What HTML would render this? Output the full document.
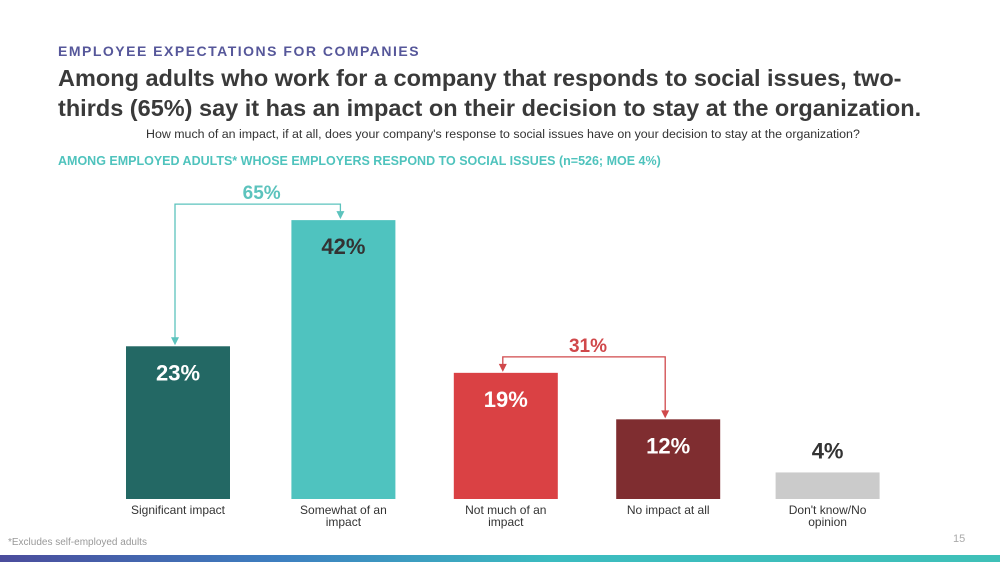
<!DOCTYPE html>
<html><head><meta charset="utf-8"><style>
body{margin:0;width:1000px;height:562px;overflow:hidden;background:#fff;font-family:"Liberation Sans",Arial,sans-serif;position:relative}
.a{position:absolute;white-space:nowrap}
</style></head><body>
<div class="a" style="left:58px;top:43px;font-size:14px;font-weight:bold;letter-spacing:1.5px;color:#56579a">EMPLOYEE EXPECTATIONS FOR COMPANIES</div>
<div class="a" style="left:58px;top:63px;font-size:23.5px;font-weight:bold;color:#3a3a3a;line-height:30px">Among adults who work for a company that responds to social issues, two-<br>thirds (65%) say it has an impact on their decision to stay at the organization.</div>
<div class="a" style="left:146px;top:127px;font-size:12.4px;color:#333">How much of an impact, if at all, does your company's response to social issues have on your decision to stay at the organization?</div>
<div class="a" style="left:58px;top:154px;font-size:12.5px;font-weight:bold;color:#4fc3bd">AMONG EMPLOYED ADULTS* WHOSE EMPLOYERS RESPOND TO SOCIAL ISSUES (n=526; MOE 4%)</div>
<div class="a" style="left:8px;top:537px;font-size:10px;color:#999">*Excludes self-employed adults</div>
<div class="a" style="left:953px;top:533px;font-size:11px;color:#aaa">15</div>
<div class="a" style="left:0;top:555px;width:1000px;height:7px;background:linear-gradient(90deg,#4b4c9c,#3d7fc0 28%,#3bbcc0 55%,#3fc0b8)"></div>
<svg id="chart" width="1000" height="562" style="position:absolute;left:0;top:0"></svg>
<script>
const categories=["Significant impact","Somewhat of an\nimpact","Not much of an\nimpact","No impact at all","Don't know/No\nopinion"];
const values=[23,42,19,12,4];
const valueLabels=["23%","42%","19%","12%","4%"];
const colors=["#236864","#4fc3bf","#da4144","#7f2d30","#cbcbcb"];
const labelColors=["#fff","#333","#fff","#fff","#333"];
const netLabels=["65%","31%"];
const svg=document.getElementById('chart');const NS='http://www.w3.org/2000/svg';
const base=499,scale=6.64,x0=126,step=162.4,bw=104;
const xs=i=>x0+i*step+(i>0&&i<4?3:0), ys=v=>base-v*scale;
function mk(t,a){const e=document.createElementNS(NS,t);for(const k in a)e.setAttribute(k,a[k]);svg.appendChild(e);return e;}
values.forEach((v,i)=>{
 const r=mk('rect',{x:xs(i),y:ys(v),width:bw,height:v*scale,fill:colors[i]});
 
 
 const inside=v>8;
 const t=mk('text',{x:xs(i)+bw/2,y:inside?ys(v)+34:ys(v)-14,'text-anchor':'middle','font-size':22,'font-weight':'bold',fill:labelColors[i],'font-family':'Liberation Sans, sans-serif'});
 t.textContent=valueLabels[i];
 
 
 const lines=categories[i].split('\n');
 lines.forEach((l,j)=>{const c=mk('text',{x:xs(i)+bw/2,y:514+j*12,'text-anchor':'middle','font-size':12,fill:'#333','font-family':'Liberation Sans, sans-serif'});c.textContent=l;
 
 });
});
function bracket(a,b,col,lab){
 const xa=xs(a)+bw/2-3,xb=xs(b)+bw/2-3,top=Math.min(ys(values[a]),ys(values[b]))-16;
 const p=mk('path',{d:`M${xa} ${ys(values[a])-4}V${top}H${xb}V${ys(values[b])-4}`,stroke:col,fill:'none','stroke-width':1.3});
 
 
 [xa,xb].forEach(x=>{const y=(x===xa?ys(values[a]):ys(values[b]))-1;mk('path',{d:`M${x-4} ${y-8}L${x+4} ${y-8}L${x} ${y}Z`,fill:col});});
 const t=mk('text',{x:(xa+xb)/2+4,y:top-5,'text-anchor':'middle','font-size':19,'font-weight':'bold',fill:col,'font-family':'Liberation Sans, sans-serif'});t.textContent=lab;
 
 
}
bracket(0,1,'#5cc3bd',netLabels[0]);
bracket(2,3,'#d0484b',netLabels[1]);
</script>
</body></html>
